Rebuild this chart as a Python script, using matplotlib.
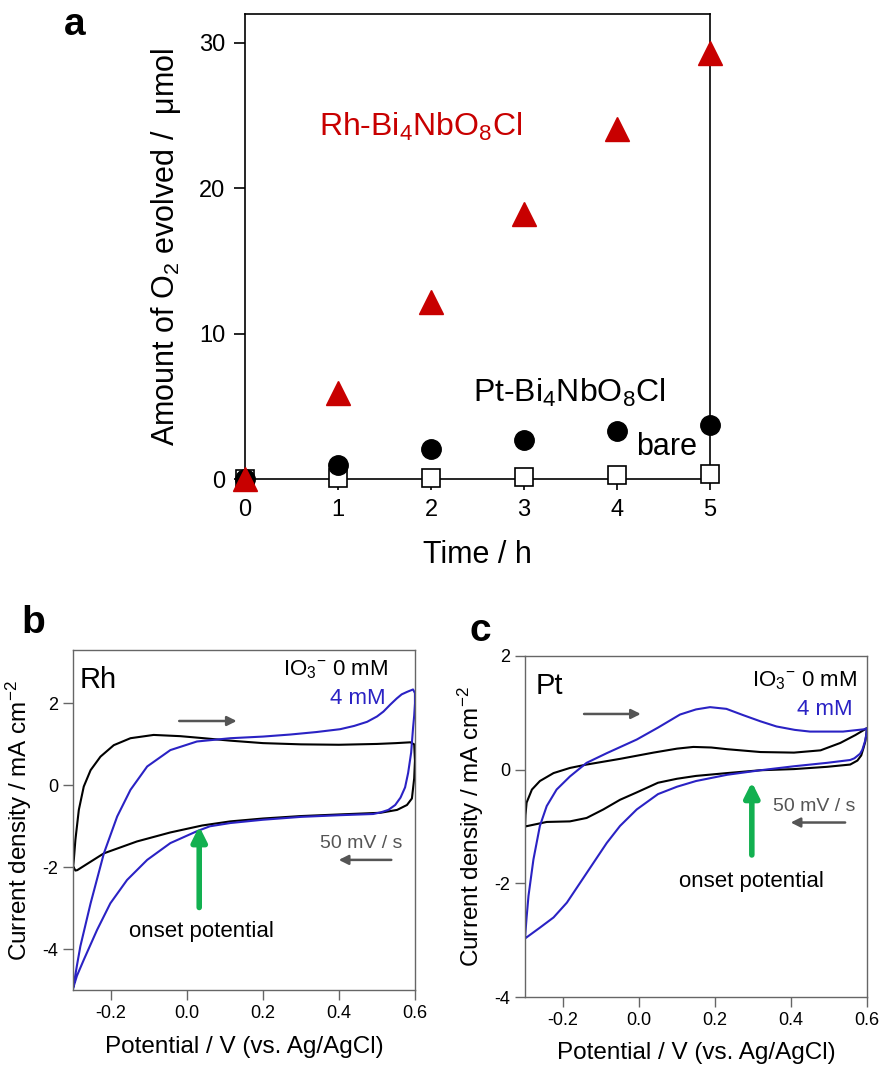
import matplotlib
matplotlib.use("Agg")
import matplotlib.pyplot as plt

plt.rcParams['font.family'] = ['Liberation Sans', 'DejaVu Sans']
plt.rcParams['axes.unicode_minus'] = False
plt.rcParams['mathtext.fontset'] = 'custom'
plt.rcParams['mathtext.rm'] = 'Liberation Sans'
plt.rcParams['mathtext.it'] = 'Liberation Sans'
plt.rcParams['mathtext.default'] = 'regular'

# panel a: O2 evolution
time_h = [0, 1, 2, 3, 4, 5]
o2_rh = [0.0, 5.9, 12.2, 18.2, 24.1, 29.3]
o2_pt = [0.0, 1.0, 2.1, 2.7, 3.3, 3.7]
o2_bare = [0.0, 0.05, 0.1, 0.15, 0.25, 0.35]

# panel b: CV on Rh, 0 mM and 4 mM IO3-
rh0_v = [-0.3, -0.298, -0.294, -0.285, -0.272, -0.254, -0.228, -0.193, -0.149, -0.088, -0.018,
         0.044, 0.114, 0.2, 0.3, 0.4, 0.5, 0.55, 0.588, 0.598,
         0.6, 0.598, 0.592, 0.579, 0.553, 0.509, 0.403, 0.3, 0.2, 0.114, 0.04, -0.044, -0.132,
         -0.219, -0.272, -0.289, -0.294, -0.3]
rh0_j = [-2.0, -1.8, -1.33, -0.6, -0.03, 0.37, 0.7, 0.98, 1.15, 1.23, 1.2,
         1.15, 1.09, 1.03, 1.0, 0.99, 1.01, 1.03, 1.05, 1.0,
         0.6, 0.17, -0.32, -0.48, -0.6, -0.67, -0.71, -0.75, -0.81, -0.88, -0.98, -1.15, -1.37,
         -1.66, -1.97, -2.07, -2.08, -1.98]
rh4_v = [-0.3, -0.29, -0.281, -0.254, -0.219, -0.184, -0.149, -0.105, -0.044, 0.026, 0.114,
         0.2, 0.272, 0.34, 0.403, 0.44, 0.474, 0.5, 0.517, 0.535, 0.552, 0.565, 0.579, 0.595,
         0.6, 0.6,
         0.598, 0.595, 0.59, 0.582, 0.574, 0.562, 0.548, 0.53, 0.51, 0.49, 0.4, 0.3, 0.2, 0.114,
         0.06, 0.026, -0.044, -0.105, -0.158, -0.202, -0.237, -0.272, -0.29, -0.3]
rh4_j = [-4.95, -4.4, -3.93, -2.88, -1.66, -0.76, -0.11, 0.46, 0.86, 1.07, 1.15,
         1.19, 1.24, 1.3, 1.37, 1.45, 1.55, 1.68, 1.8, 1.97, 2.12, 2.22, 2.28, 2.34,
         2.25, 2.0,
         1.7, 1.4, 0.8, 0.3, -0.05, -0.3, -0.48, -0.6, -0.66, -0.7, -0.73, -0.77, -0.84, -0.92,
         -1.0, -1.12, -1.41, -1.82, -2.31, -2.88, -3.53, -4.26, -4.65, -4.95]

# panel c: CV on Pt, 0 mM and 4 mM IO3-
pt0_v = [-0.3, -0.299, -0.296, -0.282, -0.261, -0.225, -0.182, -0.138, -0.05, 0.038, 0.1,
         0.143, 0.19, 0.232, 0.32, 0.408, 0.478, 0.53, 0.57, 0.6,
         0.599, 0.596, 0.591, 0.585, 0.575, 0.556, 0.495, 0.408, 0.32, 0.232, 0.15, 0.1, 0.05,
         -0.006, -0.05, -0.094, -0.138, -0.182, -0.243, -0.3]
pt0_j = [-1.0, -0.8, -0.58, -0.35, -0.2, -0.06, 0.03, 0.09, 0.19, 0.3, 0.37,
         0.4, 0.39, 0.36, 0.31, 0.3, 0.34, 0.47, 0.61, 0.73,
         0.65, 0.5, 0.38, 0.25, 0.16, 0.09, 0.05, 0.01, -0.01, -0.06, -0.11, -0.16, -0.23,
         -0.4, -0.53, -0.7, -0.85, -0.91, -0.92, -1.0]
pt4_v = [-0.3, -0.296, -0.291, -0.278, -0.261, -0.243, -0.217, -0.182, -0.138, -0.085, -0.006,
         0.05, 0.108, 0.15, 0.187, 0.23, 0.274, 0.32, 0.362, 0.41, 0.45, 0.537, 0.592, 0.6,
         0.598, 0.595, 0.588, 0.582, 0.567, 0.556, 0.495, 0.408, 0.32, 0.232, 0.15, 0.1, 0.05,
         -0.006, -0.05, -0.085, -0.12, -0.155, -0.19, -0.225, -0.261, -0.3]
pt4_j = [-2.95, -2.6, -2.22, -1.58, -0.99, -0.64, -0.35, -0.12, 0.12, 0.29, 0.53,
         0.74, 0.97, 1.06, 1.1, 1.07, 0.96, 0.85, 0.76, 0.7, 0.67, 0.67, 0.71, 0.73,
         0.6, 0.5, 0.35, 0.28, 0.2, 0.17, 0.12, 0.06, -0.01, -0.09, -0.2, -0.3, -0.43,
         -0.7, -0.99, -1.29, -1.64, -1.99, -2.34, -2.6, -2.78, -2.97]

red = '#c80000'
blue = '#2a22c4'
gray = '#555555'
green = '#12b050'

fig = plt.figure(figsize=(8.81, 10.67), dpi=100)

# ---------- a ----------
ax = fig.add_axes([0.278, 0.551, 0.528, 0.436])
ax.plot(time_h, o2_bare, 's', ms=13, mfc='white', mec='black', mew=1.2, clip_on=False, zorder=3)
ax.plot(time_h, o2_pt, 'o', ms=14, color='black', clip_on=False, zorder=4)
ax.plot(time_h, o2_rh, '^', ms=17, color=red, clip_on=False, zorder=5)
ax.set_xlim(0, 5)
ax.set_ylim(0, 32)
ax.spines['bottom'].set_position(('data', 0))
for s in ax.spines.values():
    s.set_linewidth(1.2)
ax.set_xticks(time_h)
ax.set_yticks([0, 10, 20, 30])
ax.tick_params(direction='out', length=8, width=1.2, labelsize=17, pad=6)
ax.set_xlabel('Time / h', fontsize=22, labelpad=14)
ax.set_ylabel('Amount of O$_2$ evolved /  μmol', fontsize=22, labelpad=12)
ax.text(0.8, 24.2, 'Rh-Bi$_4$NbO$_8$Cl', color=red, fontsize=23, va='center')
ax.text(2.45, 5.9, 'Pt-Bi$_4$NbO$_8$Cl', color='black', fontsize=23, va='center')
ax.text(4.2, 2.2, 'bare', color='black', fontsize=22, va='center')
fig.text(0.085, 0.977, 'a', fontsize=28, fontweight='bold', va='center', ha='center')


def cv_axes(rect, ylim, yticks):
    a = fig.add_axes(rect)
    a.set_xlim(-0.3, 0.6)
    a.set_ylim(*ylim)
    a.set_xticks([-0.2, 0.0, 0.2, 0.4, 0.6])
    a.set_xticklabels(['-0.2', '0.0', '0.2', '0.4', '0.6'])
    a.set_yticks(yticks)
    for s in a.spines.values():
        s.set_color('#666666')
        s.set_linewidth(1.0)
    a.tick_params(direction='out', length=7, width=1.0, color='#666666', labelsize=13)
    a.set_xlabel('Potential / V (vs. Ag/AgCl)', fontsize=17.5, labelpad=10)
    a.set_ylabel('Current density / mA cm$^{-2}$', fontsize=17.5, labelpad=6)
    return a


io3 = 'IO$_3{}^{-}$ 0 mM'

# ---------- b ----------
axb = cv_axes([0.083, 0.072, 0.388, 0.3187], (-5, 3.3), [-4, -2, 0, 2])
axb.plot(rh0_v, rh0_j, color='black', lw=1.5)
axb.plot(rh4_v, rh4_j, color=blue, lw=1.5)
axb.text(0.02, 0.912, 'Rh', transform=axb.transAxes, fontsize=21, va='center')
axb.text(0.921, 0.941, io3, transform=axb.transAxes, fontsize=16, ha='right', va='center')
axb.text(0.915, 0.859, '4 mM', transform=axb.transAxes, fontsize=16, ha='right', va='center', color=blue)
axb.annotate('', xy=(0.138, 1.57), xytext=(-0.028, 1.57),
             arrowprops=dict(arrowstyle='-|>', color=gray, lw=1.8, mutation_scale=14))
axb.annotate('', xy=(0.392, -1.82), xytext=(0.545, -1.82),
             arrowprops=dict(arrowstyle='-|>', color=gray, lw=1.8, mutation_scale=14))
axb.text(0.566, -1.41, '50 mV / s', fontsize=14, color=gray, ha='right', va='center')
axb.annotate('', xy=(0.032, -0.93), xytext=(0.032, -3.05),
             arrowprops=dict(arrowstyle='-|>', color=green, lw=4, mutation_scale=22))
axb.text(0.038, -3.57, 'onset potential', fontsize=16, ha='center', va='center')
fig.text(0.038, 0.416, 'b', fontsize=28, fontweight='bold', va='center', ha='center')

# ---------- c ----------
axc = cv_axes([0.596, 0.0656, 0.388, 0.3196], (-4, 2), [-4, -2, 0, 2])
axc.plot(pt0_v, pt0_j, color='black', lw=1.5)
axc.plot(pt4_v, pt4_j, color=blue, lw=1.5)
axc.text(0.03, 0.912, 'Pt', transform=axc.transAxes, fontsize=21, va='center')
axc.text(0.971, 0.927, io3, transform=axc.transAxes, fontsize=16, ha='right', va='center')
axc.text(0.959, 0.842, '4 mM', transform=axc.transAxes, fontsize=16, ha='right', va='center', color=blue)
axc.annotate('', xy=(0.012, 0.98), xytext=(-0.152, 0.98),
             arrowprops=dict(arrowstyle='-|>', color=gray, lw=1.8, mutation_scale=14))
axc.annotate('', xy=(0.392, -0.93), xytext=(0.55, -0.93),
             arrowprops=dict(arrowstyle='-|>', color=gray, lw=1.8, mutation_scale=14))
axc.text(0.57, -0.64, '50 mV / s', fontsize=14, color=gray, ha='right', va='center')
axc.annotate('', xy=(0.297, -0.17), xytext=(0.297, -1.55),
             arrowprops=dict(arrowstyle='-|>', color=green, lw=4, mutation_scale=22))
axc.text(0.297, -1.97, 'onset potential', fontsize=16, ha='center', va='center')
fig.text(0.545, 0.409, 'c', fontsize=28, fontweight='bold', va='center', ha='center')

fig.savefig('out.png', dpi=100)
